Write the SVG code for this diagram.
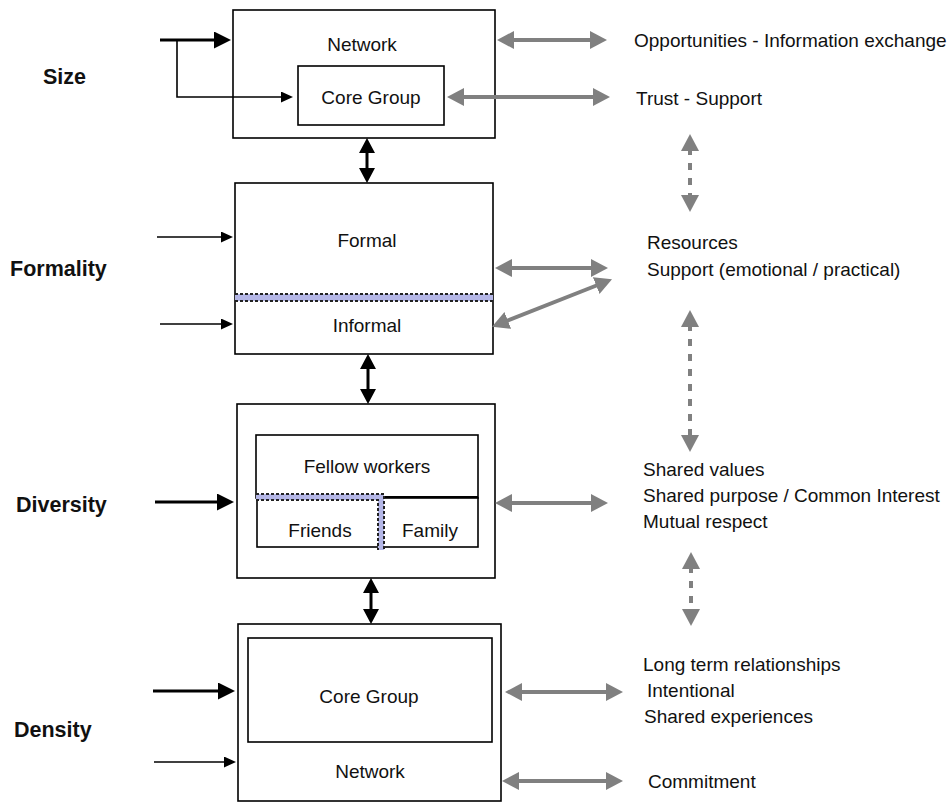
<svg xmlns="http://www.w3.org/2000/svg" width="952" height="803" viewBox="0 0 952 803">
<style>
.box{fill:#fff;stroke:#000;stroke-width:1.6}
.t{font-family:"Liberation Sans",Arial,sans-serif;font-size:19px;fill:#111}
.c{text-anchor:middle}
.lbl{font-family:"Liberation Sans",Arial,sans-serif;font-size:21.5px;font-weight:bold;fill:#111}
.g{stroke:#808080;stroke-width:4;fill:none}
.gd{stroke:#808080;stroke-width:4;fill:none;stroke-dasharray:7 8}
.bk{stroke:#000;stroke-width:3;fill:none}
.bt{stroke:#000;stroke-width:1.6;fill:none}
.band{fill:#b4b6e6}
.dot{stroke:#222;stroke-width:2;stroke-dasharray:3 2;fill:none}
</style>
<defs>
<marker id="gh" markerUnits="userSpaceOnUse" viewBox="0 0 17 18" markerWidth="17" markerHeight="18" refX="3" refY="9" orient="auto-start-reverse"><path d="M0,0 L17,9 L0,18 z" fill="#808080"/></marker>
<marker id="bh" markerUnits="userSpaceOnUse" viewBox="0 0 17 17" markerWidth="17" markerHeight="17" refX="3" refY="8.5" orient="auto-start-reverse"><path d="M0,0 L17,8.5 L0,17 z" fill="#000"/></marker>
<marker id="th" markerUnits="userSpaceOnUse" viewBox="0 0 12 11" markerWidth="12" markerHeight="11" refX="2" refY="5.5" orient="auto"><path d="M0,0 L12,5.5 L0,11 z" fill="#000"/></marker>
<marker id="vh" markerUnits="userSpaceOnUse" viewBox="0 0 15 16" markerWidth="15" markerHeight="16" refX="3" refY="8" orient="auto-start-reverse"><path d="M0,0 L15,8 L0,16 z" fill="#000"/></marker>
</defs>

<g id="labels">
<text class="lbl" x="43" y="84">Size</text>
<text class="lbl" x="10" y="276">Formality</text>
<text class="lbl" x="16" y="512">Diversity</text>
<text class="lbl" x="14" y="737">Density</text>
</g>

<g id="node-size">
<rect class="box" x="233" y="10" width="262" height="128"/>
<text class="t c" x="362" y="51">Network</text>
<rect class="box" x="298" y="66" width="146" height="59"/>
<text class="t c" x="371" y="104">Core Group</text>
</g>

<g id="node-formality">
<rect class="box" x="235" y="183" width="258" height="171"/>
<text class="t c" x="367" y="247">Formal</text>
<rect class="band" x="235" y="294" width="258" height="7"/>
<line class="dot" x1="235" y1="294" x2="493" y2="294"/>
<line class="dot" x1="235" y1="301" x2="493" y2="301"/>
<text class="t c" x="367" y="332">Informal</text>
</g>

<g id="node-diversity">
<rect class="box" x="237" y="404" width="258" height="174"/>
<rect class="box" x="256" y="435" width="222" height="63"/>
<text class="t c" x="367" y="473">Fellow workers</text>
<rect class="box" x="257" y="498" width="124" height="49"/>
<text class="t c" x="320" y="537">Friends</text>
<rect class="box" x="383" y="498" width="95" height="49"/>
<text class="t c" x="430" y="537">Family</text>
<line x1="381" y1="497" x2="478" y2="497" stroke="#000" stroke-width="2.2"/>
<rect class="band" x="256" y="494" width="126" height="6"/>
<rect class="band" x="378" y="494" width="6" height="56"/>
<path class="dot" d="M256,494 H384 V550"/>
<path class="dot" d="M256,500 H378 V550"/>
</g>

<g id="node-density">
<rect class="box" x="238" y="624" width="263" height="177"/>
<rect class="box" x="248" y="638" width="244" height="104"/>
<text class="t c" x="369" y="703">Core Group</text>
<text class="t c" x="370" y="778">Network</text>
</g>

<g id="outcomes">
<text class="t" x="634" y="47">Opportunities - Information exchange</text>
<text class="t" x="636" y="105">Trust - Support</text>
<text class="t" x="647" y="249">Resources</text>
<text class="t" x="647" y="276">Support (emotional / practical)</text>
<text class="t" x="643" y="476">Shared values</text>
<text class="t" x="643" y="502">Shared purpose / Common Interest</text>
<text class="t" x="643" y="528">Mutual respect</text>
<text class="t" x="643" y="671">Long term relationships</text>
<text class="t" x="647" y="697">Intentional</text>
<text class="t" x="644" y="723">Shared experiences</text>
<text class="t" x="648" y="788">Commitment</text>
</g>

<g id="connectors">
<line class="bk" x1="160" y1="40" x2="217" y2="40" marker-end="url(#bh)"/>
<path class="bt" d="M177,40 V97 H283" marker-end="url(#th)"/>
<line class="bt" x1="157" y1="237" x2="223" y2="237" marker-end="url(#th)"/>
<line class="bt" x1="160" y1="324" x2="223" y2="324" marker-end="url(#th)"/>
<line class="bk" x1="155" y1="502" x2="220" y2="502" marker-end="url(#bh)"/>
<line class="bk" x1="153" y1="691" x2="221" y2="691" marker-end="url(#bh)"/>
<line class="bt" x1="154" y1="762" x2="226" y2="762" marker-end="url(#th)"/>
<line class="bk" x1="367" y1="150" x2="367" y2="171" marker-start="url(#vh)" marker-end="url(#vh)"/>
<line class="bk" x1="368" y1="366" x2="368" y2="392" marker-start="url(#vh)" marker-end="url(#vh)"/>
<line class="bk" x1="371" y1="590" x2="371" y2="612" marker-start="url(#vh)" marker-end="url(#vh)"/>
<line class="g" x1="511" y1="40" x2="593" y2="40" marker-start="url(#gh)" marker-end="url(#gh)"/>
<line class="g" x1="461" y1="97" x2="596" y2="97" marker-start="url(#gh)" marker-end="url(#gh)"/>
<line class="g" x1="509" y1="268" x2="594" y2="268" marker-start="url(#gh)" marker-end="url(#gh)"/>
<line class="g" x1="505" y1="321.5" x2="599" y2="284.5" marker-start="url(#gh)" marker-end="url(#gh)"/>
<line class="g" x1="509" y1="503" x2="594" y2="503" marker-start="url(#gh)" marker-end="url(#gh)"/>
<line class="g" x1="519" y1="692" x2="609" y2="692" marker-start="url(#gh)" marker-end="url(#gh)"/>
<line class="g" x1="516" y1="781" x2="609" y2="781" marker-start="url(#gh)" marker-end="url(#gh)"/>
<line class="gd" x1="690" y1="148" x2="690" y2="198" marker-start="url(#gh)" marker-end="url(#gh)"/>
<line class="gd" x1="690" y1="324" x2="690" y2="438" marker-start="url(#gh)" marker-end="url(#gh)"/>
<line class="gd" x1="691" y1="566" x2="691" y2="612" marker-start="url(#gh)" marker-end="url(#gh)"/>
</g>
</svg>
